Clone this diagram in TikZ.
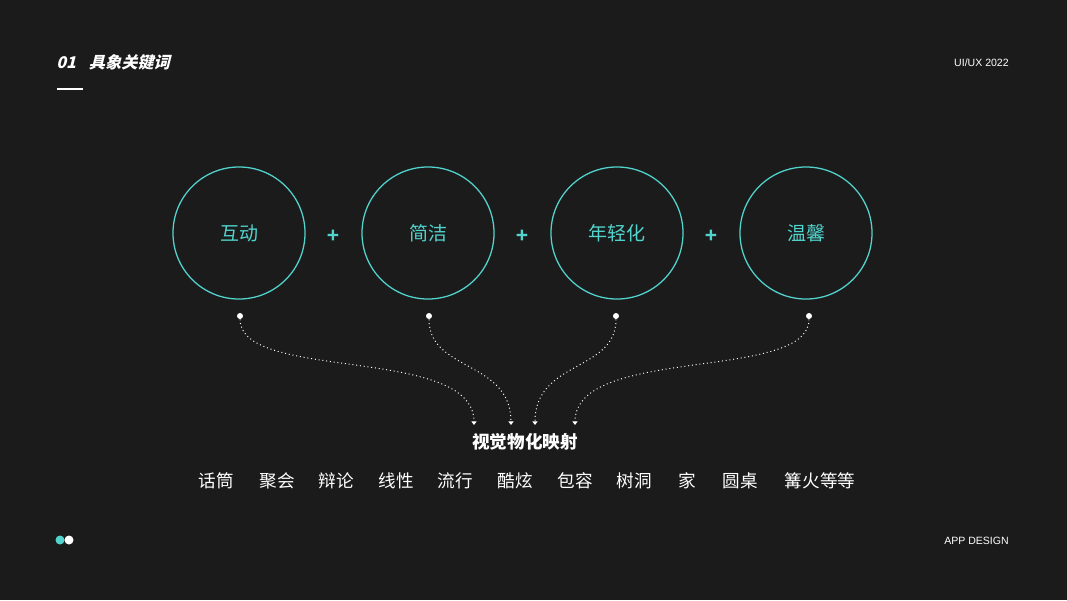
\documentclass[tikz,border=0pt]{standalone}
\usepackage{fontspec}
\setmainfont{Liberation Sans}
\newfontfamily\cjk{Noto Sans CJK SC}
\newfontfamily\cjkit{Noto Sans CJK SC}[FakeSlant=0.25]
\usetikzlibrary{arrows.meta}
\definecolor{bg}{RGB}{27,27,27}
\definecolor{teal}{RGB}{82,212,206}
\tikzset{
    ring/.style={circle,draw=teal,line width=0.9pt, minimum size=3.3cm, inner sep=0, text=teal, font=\cjk\fontsize{13.5}{13.5}\selectfont},
    plus/.style={text=teal, font=\bfseries\fontsize{15}{15}\selectfont, inner sep=0},
    dot/.style={circle,fill=white, minimum size=0.15cm, inner sep=0},
    link/.style={dotted, draw=white!75, line width=0.7pt, -{Triangle[width=3.5pt,length=2.5pt]}},
    word/.style={text=white!90, font=\cjk\fontsize{12.5}{12.5}\selectfont, inner sep=0}
}
\begin{document}
\begin{tikzpicture}[x=0.025cm,y=-0.025cm]
    \fill[bg] (0,0) rectangle (1067,600);
    \useasboundingbox (0,0) rectangle (1067,600);
    % header
    \node[anchor=west, text=white, inner sep=0, font=\cjkit\bfseries\fontsize{11.5}{11.5}\selectfont] (title) at (56,62) {01\hspace{0.8em}具象关键词};
    \draw[white, line width=1.2pt] (57,89) -- (83,89);
    \node[anchor=east, text=white!85, inner sep=0, font=\fontsize{7.5}{7.5}\selectfont] (year) at (1009,63) {UI/UX 2022};
    \node[anchor=east, text=white!85, inner sep=0, font=\fontsize{7.5}{7.5}\selectfont] (app) at (1009,541) {APP DESIGN};
    \fill[teal] (60,540) circle (4.5);
    \fill[white] (69,540) circle (4.5);
    % keywords
    \node[ring] (c1) at (239,233) {互动};
    \node[ring] (c2) at (428,233) {简洁};
    \node[ring] (c3) at (617,233) {年轻化};
    \node[ring] (c4) at (806,233) {温馨};
    \node[plus] (p1) at (333,236) {+};
    \node[plus] (p2) at (522,236) {+};
    \node[plus] (p3) at (711,236) {+};
    % mapping
    \node[dot] (d1) at (240,316) {};
    \node[dot] (d2) at (429,316) {};
    \node[dot] (d3) at (616,316) {};
    \node[dot] (d4) at (809,316) {};
    \coordinate (e1) at (474,425);
    \coordinate (e2) at (511,425);
    \coordinate (e3) at (535,425);
    \coordinate (e4) at (575,425);
    \draw[link] (d1) .. controls (240,382) and (474,345) .. (e1);
    \draw[link] (d2) .. controls (429,372) and (511,360) .. (e2);
    \draw[link] (d3) .. controls (616,372) and (535,360) .. (e3);
    \draw[link] (d4) .. controls (809,382) and (575,345) .. (e4);
    \node[text=white, inner sep=0, font=\cjk\bfseries\fontsize{12.5}{12.5}\selectfont] (map) at (525,442) {视觉物化映射};
    % words
    \node[word] (w1) at (216,481) {话筒};
    \node[word] (w2) at (277,481) {聚会};
    \node[word] (w3) at (336,481) {辩论};
    \node[word] (w4) at (396,481) {线性};
    \node[word] (w5) at (455,481) {流行};
    \node[word] (w6) at (515,481) {酷炫};
    \node[word] (w7) at (575,481) {包容};
    \node[word] (w8) at (634,481) {树洞};
    \node[word] (w9) at (687,481) {家};
    \node[word] (w10) at (740,481) {圆桌};
    \node[word] (w11) at (820,481) {篝火等等};
\end{tikzpicture}
\end{document}
